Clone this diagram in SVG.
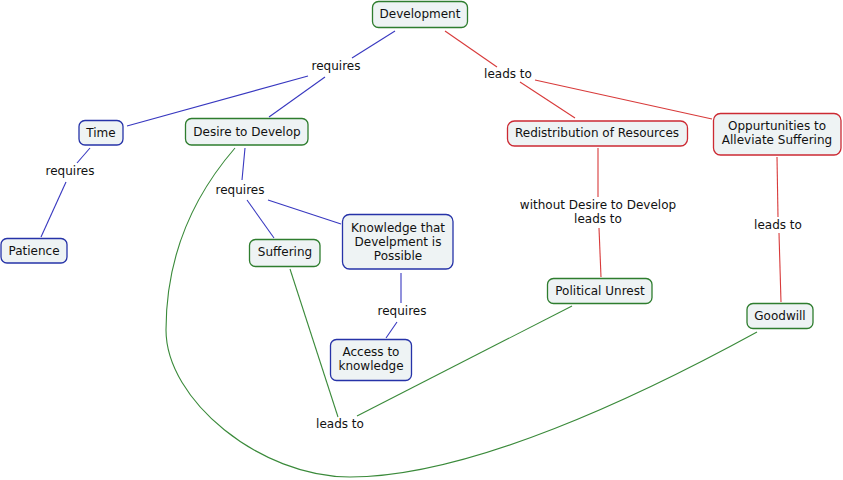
<svg xmlns="http://www.w3.org/2000/svg" width="843" height="480" viewBox="0 0 843 480">
<style>
text{font-family:"DejaVu Sans","Verdana",sans-serif;font-size:12px;fill:#111;text-anchor:middle;dominant-baseline:central}
.n{fill:#eef3f4;stroke-width:1.3}
.g{stroke:#2e7d2e}
.b{stroke:#2633a8}
.r{stroke:#cc2a33}
.c{fill:none;stroke-width:1.1}
.cg{stroke:#3a8a3a}
.cb{stroke:#3838c0}
.cr{stroke:#d83a3a}
</style>
<rect width="843" height="480" fill="#fff"/>
<g id="connectors">
<line class="c cb" x1="395" y1="31" x2="352" y2="58"/>
<line class="c cb" x1="308" y1="76" x2="127" y2="126"/>
<line class="c cb" x1="325" y1="77" x2="269" y2="117"/>
<line class="c cr" x1="445" y1="31" x2="497" y2="67"/>
<line class="c cr" x1="520" y1="82" x2="575" y2="118"/>
<line class="c cr" x1="535" y1="80" x2="712" y2="119"/>
<line class="c cb" x1="90" y1="148" x2="77" y2="163"/>
<line class="c cb" x1="66" y1="182" x2="41" y2="237"/>
<line class="c cb" x1="245" y1="148" x2="242" y2="180"/>
<line class="c cb" x1="247" y1="200" x2="274" y2="238"/>
<line class="c cb" x1="268" y1="200" x2="341" y2="224"/>
<line class="c cb" x1="401" y1="273" x2="401" y2="303"/>
<line class="c cb" x1="397" y1="322" x2="386" y2="338"/>
<line class="c cr" x1="598" y1="148" x2="598" y2="197"/>
<line class="c cr" x1="599" y1="228" x2="601" y2="277"/>
<line class="c cr" x1="777" y1="157" x2="778" y2="217"/>
<line class="c cr" x1="779" y1="233" x2="781" y2="302"/>
<line class="c cg" x1="290" y1="269" x2="338" y2="417"/>
<line class="c cg" x1="572" y1="306" x2="357" y2="416"/>
<path class="c cg" d="M757 332 C640 396 470 477 350 477 C260 477 166 400 166 330 C166 260 190 200 235 148"/>
</g>
<g id="development"><rect class="n g" x="372.5" y="1.5" width="95" height="26" rx="6"/><text x="420" y="14">Development</text></g>
<g id="time"><rect class="n b" x="79" y="120.5" width="44" height="24.5" rx="6"/><text x="101" y="133">Time</text></g>
<g id="desire"><rect class="n g" x="185.5" y="118.5" width="122.5" height="26.5" rx="6"/><text x="247" y="131.5">Desire to Develop</text></g>
<g id="patience"><rect class="n b" x="1" y="238.5" width="66" height="24.5" rx="6"/><text x="34" y="251">Patience</text></g>
<g id="suffering"><rect class="n g" x="249.5" y="239.5" width="70.5" height="27" rx="6"/><text x="285" y="252">Suffering</text></g>
<g id="knowledge"><rect class="n b" x="342.5" y="214.5" width="110.5" height="54.5" rx="7"/><text x="398" y="228">Knowledge that</text><text x="398" y="242">Develpment is</text><text x="398" y="256">Possible</text></g>
<g id="access"><rect class="n b" x="330.5" y="339.5" width="81" height="41" rx="6"/><text x="371" y="352">Access to</text><text x="371" y="366">knowledge</text></g>
<g id="redistribution"><rect class="n r" x="507.5" y="121" width="180" height="25" rx="7"/><text x="597" y="133">Redistribution of Resources</text></g>
<g id="oppurtunities"><rect class="n r" x="713.5" y="113.5" width="127.5" height="41.5" rx="7"/><text x="777" y="126">Oppurtunities to</text><text x="777" y="140">Alleviate Suffering</text></g>
<g id="unrest"><rect class="n g" x="547.5" y="278.5" width="104.5" height="25" rx="6"/><text x="600" y="290.5">Political Unrest</text></g>
<g id="goodwill"><rect class="n g" x="747" y="303.5" width="66" height="25" rx="6"/><text x="780" y="316">Goodwill</text></g>
<g id="labels">
<text x="336" y="66">requires</text>
<text x="508" y="74">leads to</text>
<text x="70" y="171">requires</text>
<text x="240" y="190">requires</text>
<text x="598" y="205">without Desire to Develop</text>
<text x="598" y="219">leads to</text>
<text x="778" y="225">leads to</text>
<text x="402" y="311">requires</text>
<text x="340" y="424">leads to</text>
</g>
</svg>
